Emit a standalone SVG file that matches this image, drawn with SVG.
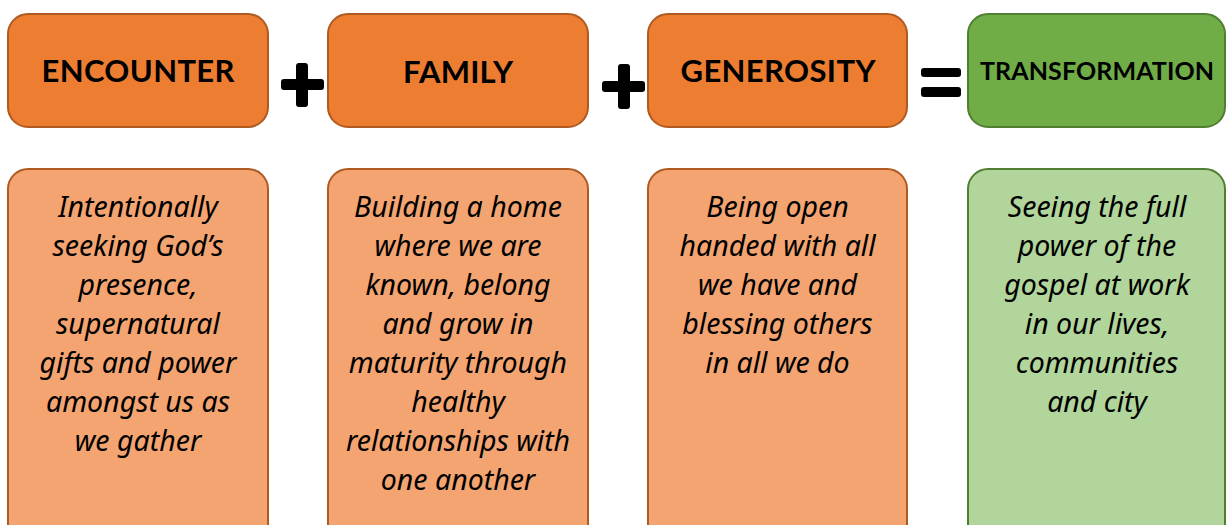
<svg xmlns="http://www.w3.org/2000/svg" width="1226" height="525" viewBox="0 0 1226 525">
<style>
.top-o{fill:#ED7D31;stroke:#AE5A21;stroke-width:2}
.top-g{fill:#70AD47;stroke:#507E32;stroke-width:2}
.bot-o{fill:#F4A470;stroke:#AE5A21;stroke-width:2}
.bot-g{fill:#B1D59A;stroke:#507E32;stroke-width:2}
.title{font-family:Lato,"Open Sans",sans-serif;font-weight:bold;font-size:31px;fill:#000;text-anchor:middle}
.body{font-family:"Noto Sans","Open Sans",sans-serif;font-style:italic;font-size:28.5px;fill:#000;text-anchor:middle}
.op{fill:#000}
</style>
<rect width="1226" height="525" fill="#fff"/>
<g id="encounter">
<rect class="top-o" x="8" y="14" width="260" height="113" rx="20"/>
<text class="title" x="138" y="82" textLength="193" lengthAdjust="spacing">ENCOUNTER</text>
</g>
<g id="family">
<rect class="top-o" x="328" y="14" width="260" height="113" rx="20"/>
<text class="title" x="458" y="83" textLength="110" lengthAdjust="spacing">FAMILY</text>
</g>
<g id="generosity">
<rect class="top-o" x="648" y="14" width="259" height="113" rx="20"/>
<text class="title" x="778" y="82" textLength="195" lengthAdjust="spacing">GENEROSITY</text>
</g>
<g id="transformation">
<rect class="top-g" x="968" y="14" width="257" height="113" rx="20"/>
<text class="title" x="1097" y="80" style="font-size:25px" textLength="234" lengthAdjust="spacing">TRANSFORMATION</text>
</g>
<g id="operators">
<rect class="op" x="281" y="79" width="43" height="11" rx="3"/>
<rect class="op" x="296" y="63" width="12" height="44" rx="3"/>
<rect class="op" x="602" y="81" width="43" height="11" rx="3"/>
<rect class="op" x="618" y="64" width="12" height="45" rx="3"/>
<rect class="op" x="921" y="68" width="40" height="9" rx="3"/>
<rect class="op" x="921" y="87" width="40" height="10" rx="3"/>
</g>
<g id="encounter-desc">
<rect class="bot-o" x="8" y="169" width="260" height="400" rx="20"/>
<text class="body" x="138" y="217">Intentionally</text>
<text class="body" x="138" y="256">seeking God’s</text>
<text class="body" x="138" y="295">presence,</text>
<text class="body" x="138" y="334">supernatural</text>
<text class="body" x="138" y="373">gifts and power</text>
<text class="body" x="138" y="412">amongst us as</text>
<text class="body" x="138" y="451">we gather</text>
</g>
<g id="family-desc">
<rect class="bot-o" x="328" y="169" width="260" height="400" rx="20"/>
<text class="body" x="458" y="217">Building a home</text>
<text class="body" x="458" y="256">where we are</text>
<text class="body" x="458" y="295">known, belong</text>
<text class="body" x="458" y="334">and grow in</text>
<text class="body" x="458" y="373">maturity through</text>
<text class="body" x="458" y="412">healthy</text>
<text class="body" x="458" y="451">relationships with</text>
<text class="body" x="458" y="490">one another</text>
</g>
<g id="generosity-desc">
<rect class="bot-o" x="648" y="169" width="259" height="400" rx="20"/>
<text class="body" x="777.5" y="217">Being open</text>
<text class="body" x="777.5" y="256">handed with all</text>
<text class="body" x="777.5" y="295">we have and</text>
<text class="body" x="777.5" y="334">blessing others</text>
<text class="body" x="777.5" y="373">in all we do</text>
</g>
<g id="transformation-desc">
<rect class="bot-g" x="968" y="169" width="257" height="400" rx="20"/>
<text class="body" x="1097" y="217">Seeing the full</text>
<text class="body" x="1097" y="256">power of the</text>
<text class="body" x="1097" y="295">gospel at work</text>
<text class="body" x="1097" y="334">in our lives,</text>
<text class="body" x="1097" y="373">communities</text>
<text class="body" x="1097" y="412">and city</text>
</g>
<g id="connectors"></g>
</svg>
